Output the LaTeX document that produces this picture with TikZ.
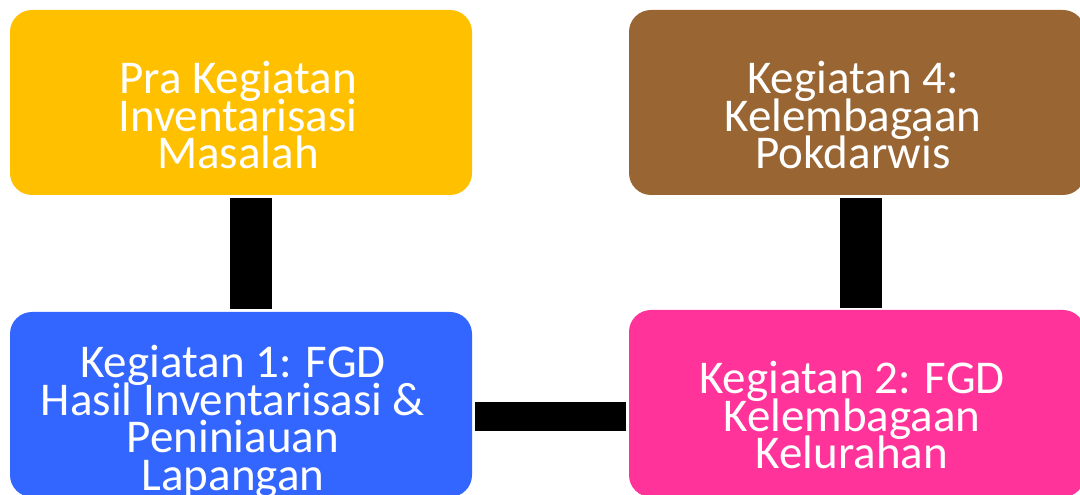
\documentclass[tikz,border=0pt]{standalone}
\usepackage{fontspec}
\setmainfont{Carlito}
\usetikzlibrary{calc}
\definecolor{cyellow}{HTML}{FFC000}
\definecolor{cbrown}{HTML}{996633}
\definecolor{cblue}{HTML}{3366FF}
\definecolor{cpink}{HTML}{FF3399}
\newcommand\boxlines[1]{\vtop{\baselineskip=37.5pt\lineskiplimit=-100pt\halign{\hfil##\hfil\cr #1\crcr}}}
\tikzset{
  stagebox/.style={rectangle, rounded corners=22pt, inner sep=0pt, draw=none},
  stagetext/.style={anchor=base, inner sep=0pt, text=white, font=\fontsize{47}{37.5}\selectfont},
  link/.style={line width=42pt, line cap=butt, black}
}
\begin{document}
\begin{tikzpicture}[x=1pt,y=1pt]
\useasboundingbox (0,0) rectangle (1080,495);
\clip (0,0) rectangle (1080,495);
\node[stagebox, fill=cyellow, minimum width=462pt, minimum height=185pt] (pra) at (241,392.5) {};
\node[stagebox, fill=cbrown, minimum width=456pt, minimum height=185pt] (k4) at (857,392.5) {};
\node[stagebox, fill=cblue, minimum width=462pt, minimum height=185pt] (k1) at (241,90.5) {};
\node[stagebox, fill=cpink, minimum width=456pt, minimum height=187pt] (k2) at (857,91.5) {};
\node[stagetext] (tpra) at (238,401) {\boxlines{Pra Kegiatan\cr Inventarisasi\cr Masalah}};
\node[stagetext] (tk4) at (853,401) {\boxlines{Kegiatan 4:\cr Kelembagaan\cr Pokdarwis}};
\node[stagetext] (tk1) at (233,117) {\boxlines{Kegiatan 1: FGD\cr Hasil Inventarisasi \&\cr Peniniauan\cr Lapangan}};
\node[stagetext] (tk2) at (852,101) {\boxlines{Kegiatan 2: FGD\cr Kelembagaan\cr Kelurahan}};
\coordinate (hb) at (0,78.5);
\draw[link] ([xshift=10pt,yshift=-3pt]pra.south) -- ([xshift=10pt,yshift=3pt]k1.north);
\draw[link] ([xshift=4pt,yshift=-3pt]k4.south) -- ([xshift=4pt,yshift=2pt]k2.north);
\draw[link, line width=29pt] ([xshift=3pt]k1.east |- hb) -- ([xshift=-3pt]k2.west |- hb);
\end{tikzpicture}
\end{document}
